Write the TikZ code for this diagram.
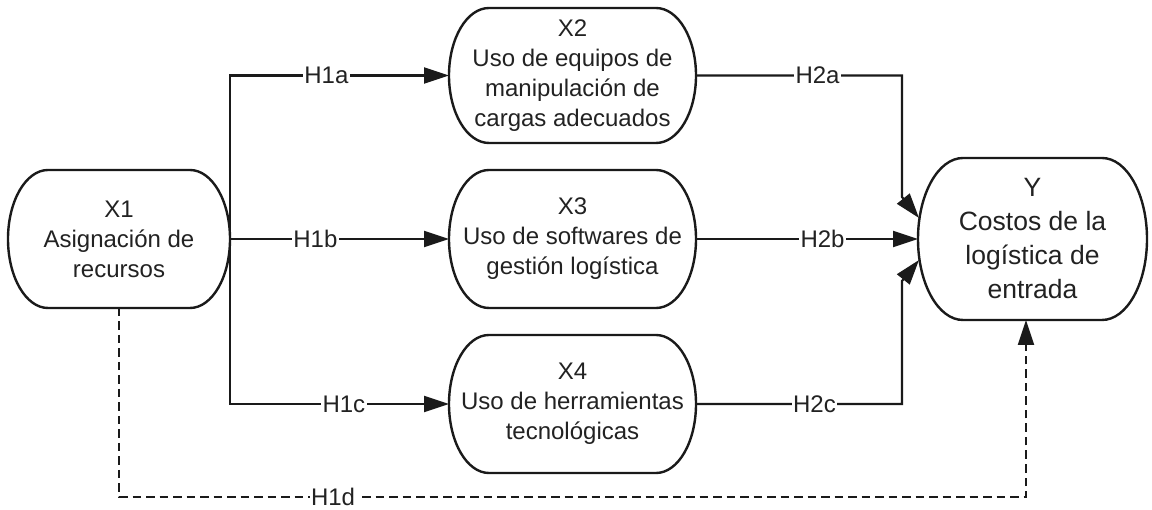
\documentclass[tikz,border=0pt]{standalone}
\usepackage{fontspec}
\setmainfont{Liberation Sans}
\usetikzlibrary{arrows.meta}

\definecolor{ink}{HTML}{1A1A1A}
\definecolor{txt}{HTML}{222222}

% capsule outline around a (borderless) node: straight top and bottom,
% half-elliptic ends of horizontal radius #2 and vertical radius #3
\newcommand\capsuleoutline[3]{%
  \draw[boxline] ([xshift=#2pt]#1.north west) -- ([xshift=-#2pt]#1.north east)
    arc[start angle=-90,end angle=90,x radius=#2,y radius=#3]
    -- ([xshift=#2pt]#1.south west)
    arc[start angle=90,end angle=270,x radius=#2,y radius=#3] -- cycle;}

\tikzset{
  boxline/.style={draw=ink,line width=2.4pt},
  capsule/.style={draw=none,inner sep=0pt,outer sep=0pt,align=center,text=txt,
    font=\fontsize{24}{30}\selectfont},
  conn/.style={draw=ink,line width=2.2pt,line join=miter,
    -{Triangle[length=25pt,width=16pt]}},
  dashline/.style={dash pattern=on 8.5pt off 5pt},
  lbl/.style={fill=white,inner sep=1.5pt,text=txt,font=\fontsize{24}{28}\selectfont}
}

\begin{document}
\begin{tikzpicture}[x=1pt,y=-1pt]
\useasboundingbox[fill=white] (0,0) rectangle (1152,510);

% variables
\node[capsule,minimum width=222pt,minimum height=138pt] (X1) at (119,239)
  {X1\\Asignación de\\recursos};
\node[capsule,minimum width=247pt,minimum height=135pt] (X2) at (572.5,75.5)
  {X2\\Uso de equipos de\\manipulación de\\cargas adecuados};
\node[capsule,minimum width=247pt,minimum height=138pt] (X3) at (572.5,239)
  {X3\\Uso de softwares de\\gestión logística};
\node[capsule,minimum width=247pt,minimum height=138pt] (X4) at (572.5,404)
  {X4\\Uso de herramientas\\tecnológicas};
\node[capsule,minimum width=229pt,minimum height=162pt,
      font=\fontsize{26.5}{34}\selectfont] (Y) at (1032.5,239)
  {Y\\Costos de la\\logística de\\entrada};

\capsuleoutline{X1}{40}{69}
\capsuleoutline{X2}{40}{67.5}
\capsuleoutline{X3}{40}{69}
\capsuleoutline{X4}{40}{69}
\capsuleoutline{Y}{45}{81}

% bends of the connectors into Y
\coordinate (c2a) at (902,75.5);
\coordinate (a2)  at (902,197);
\coordinate (yin1) at (919,218);
\coordinate (c2c) at (902,404);
\coordinate (a4)  at (902,281);
\coordinate (yin3) at (919,260);
\coordinate (d1) at (119,497);
\coordinate (d2) at (1026,497);

% X1 -> mediators
\draw[conn] (X1.east) |- node[lbl,pos=0.72] (h1a) {H1a} (X2.west);
\draw[conn] (X1.east) -- node[lbl,pos=0.39] (h1b) {H1b} (X3.west);
\draw[conn] (X1.east) |- node[lbl,pos=0.76] (h1c) {H1c} (X4.west);

% mediators -> Y
\draw[conn] (X2.east) -- node[lbl,pos=0.59] (h2a) {H2a} (c2a) -- (a2) -- (yin1);
\draw[conn] (X3.east) -- node[lbl,pos=0.57] (h2b) {H2b} (Y.west);
\draw[conn] (X4.east) -- node[lbl,pos=0.575] (h2c) {H2c} (c2c) -- (a4) -- (yin3);

% direct effect
\draw[conn,dashline] (X1.south) -- (d1)
  -- node[lbl,pos=0.236,inner ysep=0.5pt] (h1d) {H1d} (d2)
  -- (d2 |- Y.south);
\end{tikzpicture}
\end{document}
